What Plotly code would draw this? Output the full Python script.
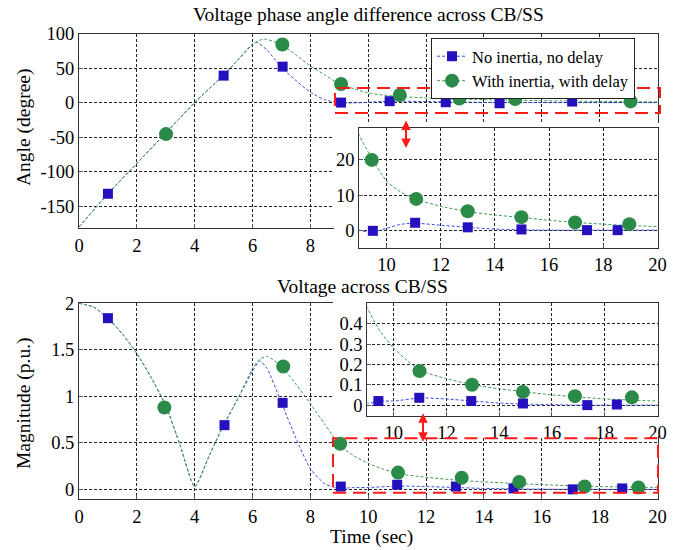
import plotly.graph_objects as go

# ---------------- data ----------------
# Angle curves (degree) vs time (sec)
t_ang_blue = [0, 1, 2, 3, 4, 5, 5.5, 6, 6.15, 6.5, 7, 7.5, 8, 8.5, 9, 9.5, 10, 10.5, 11, 12, 13, 14, 15, 16, 17, 18, 19, 20]
ang_blue = [-180, -132, -88, -44, 0, 40, 62, 84, 87, 76, 51, 32, 15, 4, 0, -0.5, 0.5, 1.6, 2.0, 1.4, 0.8, 0.3, 0.1, 0, 0, 0, 0, 0]
t_ang_green = [0, 1, 2, 3, 4, 5, 5.5, 6, 6.4, 7, 7.5, 8, 8.5, 9, 9.5, 10, 10.5, 11, 12, 13, 14, 15, 16, 17, 18, 19, 20]
ang_green = [-180, -132, -88, -44, 0, 40, 62, 85, 92, 84, 69, 53, 40, 27, 20, 14, 11, 9, 6.8, 5.3, 4.3, 3.6, 2.8, 2.2, 1.7, 1.3, 1.0]

# Angle markers (main plot)
tm_ang_blue = [1.0, 5.0, 7.04, 9.06, 10.74, 12.68, 14.54, 17.05]
m_ang_blue = [-132, 39, 52, 0, 2, 0.5, -1, 1.5]
tm_ang_green = [3.01, 7.03, 9.06, 11.09, 13.15, 15.08, 19.07]
m_ang_green = [-45.6, 84, 27, 11, 6, 5, 1.7]
# Angle markers (inset)
ti_ang_blue = [9.5, 11.06, 13.0, 14.98, 17.4, 18.53]
i_ang_blue = [-0.2, 2.1, 0.8, 0.2, 0, 0]
ti_ang_green = [9.46, 11.1, 13.0, 14.98, 16.96, 18.96]
i_ang_green = [20, 8.9, 5.4, 3.7, 2.2, 1.7]

# Magnitude curves (p.u.) vs time (sec)
t_mag_blue = [0, 0.5, 1, 1.5, 2, 2.5, 3, 3.5, 4, 4.5, 5, 5.5, 6, 6.25, 6.5, 7, 7.5, 8, 8.5, 9, 9.5, 10, 11, 12, 13, 14, 15, 16, 17, 18, 19, 20]
mag_blue = [2.0, 1.96, 1.84, 1.67, 1.46, 1.2, 0.9, 0.47, 0.03, 0.36, 0.69, 0.98, 1.27, 1.38, 1.3, 0.93, 0.55, 0.22, 0.06, 0.01, 0.02, 0.02, 0.035, 0.03, 0.02, 0.01, 0.005, 0.002, 0, 0, 0, 0]
t_mag_green = [0, 0.5, 1, 1.5, 2, 2.5, 3, 3.5, 4, 4.5, 5, 5.5, 6, 6.25, 6.5, 7, 7.5, 8, 8.5, 9, 9.5, 10, 10.5, 11, 12, 13, 14, 15, 16, 17, 18, 19, 20]
mag_green = [2.0, 1.96, 1.84, 1.67, 1.46, 1.2, 0.9, 0.47, 0.03, 0.36, 0.69, 0.98, 1.3, 1.4, 1.43, 1.32, 1.13, 0.92, 0.7, 0.48, 0.36, 0.28, 0.22, 0.17, 0.13, 0.10, 0.08, 0.065, 0.05, 0.04, 0.03, 0.025, 0.02]

# Magnitude markers (main plot)
tm_mag_blue = [1.0, 5.03, 7.04, 9.05, 11.0, 13.03, 15.02, 17.07, 18.78]
m_mag_blue = [1.84, 0.69, 0.93, 0.03, 0.05, 0.03, 0.01, 0.0, 0.01]
tm_mag_green = [2.95, 7.06, 9.03, 11.03, 13.23, 15.22, 17.48, 19.34]
m_mag_green = [0.88, 1.32, 0.49, 0.18, 0.125, 0.08, 0.03, 0.02]
# Magnitude markers (inset)
ti_mag_blue = [9.42, 10.97, 12.94, 14.9, 17.34, 18.46]
i_mag_blue = [0.02, 0.036, 0.02, 0.008, 0.0, 0.003]
ti_mag_green = [10.98, 12.97, 14.9, 16.87, 19.03]
i_mag_green = [0.167, 0.10, 0.065, 0.044, 0.038]

series_names = ["No inertia, no delay", "With inertia, with delay"]
x_ticks_main = [0, 2, 4, 6, 8, 10, 12, 14, 16, 18, 20]
x_ticks_inset = [10, 12, 14, 16, 18, 20]
y_ticks_angle = [-150, -100, -50, 0, 50, 100]
y_ticktext_angle = ["-150", "-100", "-50", "0", "50", "100"]
y_ticks_angle_inset = [0, 10, 20]
y_ticks_mag = [0, 0.5, 1, 1.5, 2]
y_ticks_mag_inset = [0, 0.1, 0.2, 0.3, 0.4]

# ---------------- style ----------------
W, H = 695, 550
FONT = "Liberation Serif"
BLUE_M = "#2411bd"
GREEN_M = "#2a8a48"
BLUE_L = "#3a4ee0"
GREEN_L = "#3f9a55"
RED = "#ff1a1a"


def px(p):
    return p / W


def py(p):
    return 1 - p / H


fig = go.Figure()


def curve(t, v, color, xa, ya):
    fig.add_trace(go.Scatter(x=t, y=v, mode="lines", xaxis=xa, yaxis=ya,
                             line=dict(color=color, width=1, dash="3px,2px", shape="spline", smoothing=0.6),
                             showlegend=False, hoverinfo="skip"))


def marks(t, v, color, symbol, size, xa, ya):
    fig.add_trace(go.Scatter(x=t, y=v, mode="markers", xaxis=xa, yaxis=ya,
                             marker=dict(color=color, symbol=symbol, size=size, line=dict(width=0)),
                             showlegend=False, hoverinfo="skip", cliponaxis=False))


# top main (x, y)
curve(t_ang_blue, ang_blue, BLUE_L, "x", "y")
curve(t_ang_green, ang_green, GREEN_L, "x", "y")
marks(tm_ang_blue, m_ang_blue, BLUE_M, "square", 10, "x", "y")
marks(tm_ang_green, m_ang_green, GREEN_M, "circle", 14, "x", "y")
# legend entries
fig.add_trace(go.Scatter(x=[None], y=[None], mode="lines+markers", name=series_names[0], xaxis="x", yaxis="y",
                         line=dict(color=BLUE_L, width=1, dash="3px,2px"),
                         marker=dict(color=BLUE_M, symbol="square", size=10)))
fig.add_trace(go.Scatter(x=[None], y=[None], mode="lines+markers", name=series_names[1], xaxis="x", yaxis="y",
                         line=dict(color=GREEN_L, width=1, dash="3px,2px"),
                         marker=dict(color=GREEN_M, symbol="circle", size=14)))
# top cover (x2, y2): white panel behind the inset
fig.add_trace(go.Scatter(x=[], y=[], xaxis="x2", yaxis="y2", showlegend=False, hoverinfo="skip"))
# top inset (x3, y3)
curve(t_ang_blue, ang_blue, BLUE_L, "x3", "y3")
curve(t_ang_green, ang_green, GREEN_L, "x3", "y3")
marks(ti_ang_blue, i_ang_blue, BLUE_M, "square", 10, "x3", "y3")
marks(ti_ang_green, i_ang_green, GREEN_M, "circle", 14, "x3", "y3")
# bottom main (x4, y4)
curve(t_mag_blue, mag_blue, BLUE_L, "x4", "y4")
curve(t_mag_green, mag_green, GREEN_L, "x4", "y4")
marks(tm_mag_blue, m_mag_blue, BLUE_M, "square", 10, "x4", "y4")
marks(tm_mag_green, m_mag_green, GREEN_M, "circle", 14, "x4", "y4")
# bottom cover (x5, y5)
fig.add_trace(go.Scatter(x=[], y=[], xaxis="x5", yaxis="y5", showlegend=False, hoverinfo="skip"))
# bottom inset (x6, y6)
curve(t_mag_blue, mag_blue, BLUE_L, "x6", "y6")
curve(t_mag_green, mag_green, GREEN_L, "x6", "y6")
marks(ti_mag_blue, i_mag_blue, BLUE_M, "square", 10, "x6", "y6")
marks(ti_mag_green, i_mag_green, GREEN_M, "circle", 14, "x6", "y6")

tickfont = dict(family=FONT, size=18.5, color="black")


def ax(domain, rng, tickvals, anchor, ticktext=None):
    d = dict(domain=domain, range=rng, tickvals=tickvals, anchor=anchor,
             showgrid=True, gridcolor="#222", gridwidth=1, griddash="3px,2px",
             zeroline=False, showline=True, mirror=True, linecolor="#333", linewidth=1,
             ticks="inside", ticklen=4, tickcolor="#555", tickfont=tickfont,
             fixedrange=True, automargin=False)
    if ticktext is not None:
        d["ticktext"] = ticktext
    return d


def cover(domain, anchor):
    return dict(domain=domain, visible=False, anchor=anchor, range=[0, 1], fixedrange=True, automargin=False)


L, R = 79, 657.5
layout = dict(
    width=W, height=H, autosize=False,
    margin=dict(l=0, r=0, t=0, b=0, pad=0, autoexpand=False),
    paper_bgcolor="white", plot_bgcolor="white",
    font=dict(family=FONT, size=17, color="black"),
    xaxis=ax([px(L), px(R)], [0, 20], x_ticks_main, "y"),
    yaxis=ax([py(228.3), py(33.5)], [-182, 100], y_ticks_angle, "x", y_ticktext_angle),
    xaxis2=cover([px(334), px(692)], "y2"),
    yaxis2=cover([py(266), py(123)], "x2"),
    xaxis3=ax([px(359.3), px(R)], [9, 20], x_ticks_inset, "y3"),
    yaxis3=ax([py(247.7), py(128.3)], [-5, 29], y_ticks_angle_inset, "x3"),
    xaxis4=ax([px(L), px(R)], [0, 20], x_ticks_main, "y4"),
    yaxis4=ax([py(499.3), py(303.3)], [-0.107, 2], y_ticks_mag, "x4"),
    xaxis5=cover([px(333), px(692)], "y5"),
    yaxis5=cover([py(436), py(299)], "x5"),
    xaxis6=ax([px(367.3), px(R)], [9, 20], x_ticks_inset, "y6"),
    yaxis6=ax([py(415.7), py(303.3)], [-0.052, 0.5], y_ticks_mag_inset, "x6"),
    legend=dict(x=px(431), y=py(38), xanchor="left", yanchor="top",
                bgcolor="white", bordercolor="#222", borderwidth=1,
                font=dict(family=FONT, size=16.5, color="black"),
                tracegroupgap=0, itemwidth=30),
    shapes=[
        dict(type="rect", xref="paper", yref="paper", x0=px(335), x1=px(660), y0=py(113), y1=py(88),
             line=dict(color=RED, width=2, dash="13px,7px"), layer="above"),
        dict(type="rect", xref="paper", yref="paper", x0=px(333), x1=px(658), y0=py(492.7), y1=py(438.3),
             line=dict(color=RED, width=2, dash="13px,7px"), layer="above"),
    ],
    annotations=[
        dict(text="Voltage phase angle difference across CB/SS", xref="paper", yref="paper",
             x=px(368), y=py(15), xanchor="center", yanchor="middle", showarrow=False,
             font=dict(family=FONT, size=19.5)),
        dict(text="Voltage across CB/SS", xref="paper", yref="paper",
             x=px(362), y=py(286), xanchor="center", yanchor="middle", showarrow=False,
             font=dict(family=FONT, size=19.5)),
        dict(text="Angle (degree)", xref="paper", yref="paper", textangle=-90,
             x=px(24), y=py(128), xanchor="center", yanchor="middle", showarrow=False,
             font=dict(family=FONT, size=19.5)),
        dict(text="Magnitude (p.u.)", xref="paper", yref="paper", textangle=-90,
             x=px(24), y=py(403), xanchor="center", yanchor="middle", showarrow=False,
             font=dict(family=FONT, size=19.5)),
        dict(text="Time (sec)", xref="paper", yref="paper",
             x=px(371), y=py(537), xanchor="center", yanchor="middle", showarrow=False,
             font=dict(family=FONT, size=19.5)),
        dict(text="", xref="paper", yref="paper", x=px(406), y=py(148), ax=0, ay=-29,
             showarrow=True, arrowside="end+start", arrowhead=2, arrowsize=0.95, arrowwidth=2,
             arrowcolor=RED, standoff=0, startstandoff=0, startarrowhead=2, startarrowsize=0.95),
        dict(text="", xref="paper", yref="paper", x=px(423), y=py(441.7), ax=0, ay=-30,
             showarrow=True, arrowside="end+start", arrowhead=2, arrowsize=0.95, arrowwidth=2,
             arrowcolor=RED, standoff=0, startstandoff=0, startarrowhead=2, startarrowsize=0.95),
    ],
)
fig.update_layout(**layout)
fig.write_html("out.html")
